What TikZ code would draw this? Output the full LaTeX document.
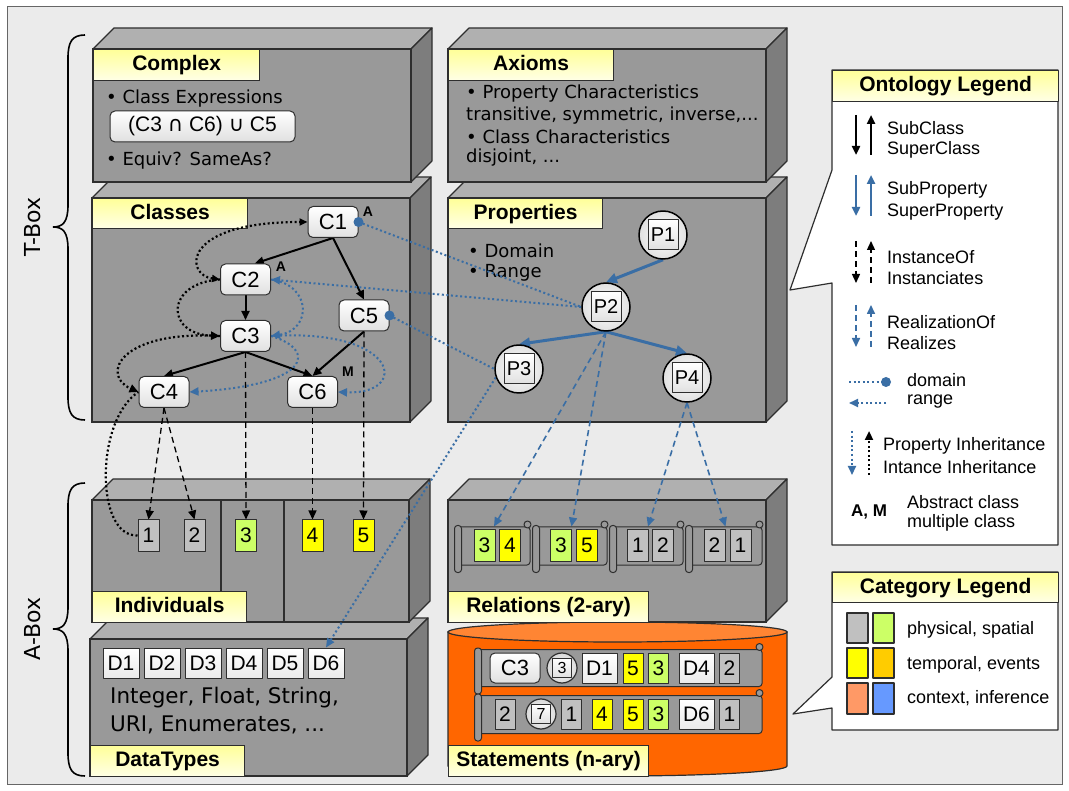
\documentclass[tikz,border=0pt]{standalone}
\usepackage{fontspec}
\setmainfont{Liberation Sans}
\newfontfamily\dv{DejaVu Sans}
\usetikzlibrary{arrows.meta,calc}
\definecolor{bgc}{HTML}{EBEBEB}
\definecolor{frontc}{HTML}{999999}
\definecolor{topc}{HTML}{B0B0B0}
\definecolor{sidec}{HTML}{7D7D7D}
\definecolor{edgec}{HTML}{2E2E2E}
\definecolor{myblue}{RGB}{58,110,165}
\definecolor{igray}{HTML}{C0C0C0}
\definecolor{igreen}{HTML}{CCFF66}
\definecolor{iyellow}{HTML}{FFFF00}
\definecolor{iorange}{HTML}{FFCC00}
\definecolor{isalmon}{HTML}{FF9966}
\definecolor{iblue}{HTML}{6699FF}
\definecolor{cylc}{HTML}{FF6600}
\definecolor{cyltop}{HTML}{FF8533}
\definecolor{labtop}{HTML}{FFFF99}
\definecolor{labbot}{HTML}{FFFFE6}
\pgfdeclarelayer{blocks}
\pgfdeclarelayer{links}
\pgfsetlayers{blocks,links,main}
\newcommand\blk[4]{%
  \filldraw[fill=topc,draw=edgec,line width=1.2pt,line join=round] (#1,#2) -- ({#1+21},{#2-21}) -- ({#3+21},{#2-21}) -- (#3,#2) -- cycle;
  \filldraw[fill=sidec,draw=edgec,line width=1.2pt,line join=round] (#3,#2) -- ({#3+21},{#2-21}) -- ({#3+21},{#4-21}) -- (#3,#4) -- cycle;
  \filldraw[fill=frontc,draw=edgec,line width=1.2pt] (#1,#2) rectangle (#3,#4);}
\newcommand\scrl[5]{%
  \node[scrollbody,minimum width=#4pt,minimum height=#5pt] (#1) at (#2,#3) {};
  \filldraw[fill=frontc,draw=edgec,line width=1pt,rounded corners=3pt] ($(#1.north west)+(-3,-1)$) rectangle ($(#1.south west)+(4,7)$);
  \filldraw[fill=frontc,draw=edgec,line width=1pt] ($(#1.north east)+(-3,-2)$) circle[radius=3.5pt];}
\begin{document}
\begin{tikzpicture}[x=1pt,y=-1pt,line join=round,
 labelbox/.style={draw=edgec,line width=1.2pt,top color=labtop,bottom color=labbot,anchor=north west,inner sep=0pt,minimum height=31pt,text height=15pt,text depth=4pt,font=\fontsize{21}{24}\selectfont\bfseries},
 btxt/.style={anchor=west,inner sep=0pt,font=\dv\fontsize{18}{20}\selectfont},
 cls/.style={draw=edgec,line width=1pt,rounded corners=5pt,top color=white,bottom color=black!12,minimum width=50pt,minimum height=31pt,inner sep=0pt,font=\fontsize{22}{24}\selectfont},
 pc/.style={circle,draw=black,line width=1.5pt,minimum size=48pt,inner sep=0pt,inner color=white,outer color=black!12},
 psq/.style={draw=edgec,line width=1pt,minimum size=30pt,inner sep=0pt,top color=white,bottom color=black!12,font=\fontsize{20}{22}\selectfont},
 ind/.style={draw=edgec,line width=1pt,minimum width=21pt,minimum height=31pt,inner sep=0pt,font=\fontsize{21}{23}\selectfont},
 sind/.style={ind,minimum width=20pt,minimum height=30pt},
 dbox/.style={draw=edgec,line width=1pt,minimum width=36pt,minimum height=30pt,inner sep=0pt,top color=white,bottom color=black!8,font=\fontsize{21}{23}\selectfont},
 scrollbody/.style={draw=edgec,line width=1pt,fill=frontc,rounded corners=3pt,inner sep=0pt},
 sc/.style={circle,draw=edgec,line width=1.2pt,minimum size=30pt,inner sep=0pt,inner color=white,outer color=black!15},
 ssq/.style={draw=edgec,line width=0.8pt,minimum size=19pt,inner sep=0pt,top color=white,bottom color=black!12,font=\fontsize{16}{18}\selectfont},
 arrtip/.style={-{Triangle[length=9pt,width=8pt]}},
 sub/.style={line width=2pt,arrtip},
 subp/.style={myblue,line width=3pt,-{Triangle[length=11pt,width=10pt]}},
 inst/.style={line width=1.3pt,dash pattern=on 6pt off 4pt,arrtip},
 real/.style={myblue,line width=1.6pt,dash pattern=on 6pt off 4pt,arrtip},
 bdot/.style={line width=2.2pt,dash pattern=on 2pt off 2.5pt},
 bldot/.style={myblue,line width=2pt,dash pattern=on 2pt off 2.6pt},
 legtxt/.style={anchor=west,inner sep=0pt,font=\fontsize{18}{20}\selectfont},
 lbl/.style={font=\fontsize{14}{16}\selectfont\bfseries,inner sep=0pt},
 sw/.style={draw=edgec,line width=1.2pt}
]
\useasboundingbox (0,0) rectangle (1069,791);
\begin{pgfonlayer}{blocks}
\fill[white] (0,0) rectangle (1069,791);
\filldraw[fill=bgc,draw=black!60,line width=1pt] (7,7) rectangle (1062,784);
% braces
\draw[line width=1.6pt] (85,35) .. controls (72,35) and (68,42) .. (68,58) -- (68,205) .. controls (68,222) and (63,227) .. (53,227) .. controls (63,227) and (68,232) .. (68,249) -- (68,397) .. controls (68,413) and (72,420) .. (85,420);
\draw[line width=1.6pt] (85,483) .. controls (72,483) and (68,490) .. (68,506) -- (68,607) .. controls (68,624) and (63,629) .. (53,629) .. controls (63,629) and (68,634) .. (68,651) -- (68,753) .. controls (68,769) and (72,776) .. (85,776);
\node[rotate=90,font=\dv\fontsize{22}{24}\selectfont] (tbox) at (33,227) {T-Box};
\node[rotate=90,font=\dv\fontsize{22}{24}\selectfont] (abox) at (33,629) {A-Box};
% T-Box blocks
\blk{92}{198}{410}{422}
\blk{93}{49}{411}{182}
\blk{448}{198}{766}{422}
\blk{448}{49}{766}{182}
% A-Box blocks
\blk{90}{639}{407}{776}
\blk{92}{500}{409}{622}
\draw[edgec,line width=1.2pt] (221,500) -- (221,622) (284,500) -- (284,622);
\filldraw[fill=cylc,draw=edgec,line width=1.2pt] (448,632) -- (448,766) arc[start angle=180,end angle=360,x radius=169.5pt,y radius=10pt] -- (787,632) -- cycle;
\filldraw[fill=cyltop,draw=edgec,line width=1.2pt] (617.5,632) ellipse[x radius=169.5pt,y radius=10pt];
\blk{448}{500}{766}{622}
% labels
\node[labelbox,minimum width=166pt] (lcomplex) at (93,49) {Complex};
\node[labelbox,minimum width=155pt,minimum height=30pt] (lclasses) at (92,198) {Classes};
\node[labelbox,minimum width=165pt] (laxioms) at (448,49) {Axioms};
\node[labelbox,minimum width=154pt,minimum height=30pt] (lprops) at (448,198) {Properties};
\node[labelbox,minimum width=154pt] (lind) at (92,591) {Individuals};
\node[labelbox,minimum width=154pt] (ldt) at (90,745) {DataTypes};
\node[labelbox,minimum width=200pt] (lrel) at (448,591) {Relations (2-ary)};
\node[labelbox,minimum width=200pt] (lstat) at (448,745) {Statements (n-ary)};
% block texts
\node[btxt] (cx1) at (106,99) {\textbullet\ Class Expressions};
\node[draw=edgec,line width=1pt,rounded corners=5pt,top color=white,bottom color=black!12,minimum width=185pt,minimum height=31pt,inner sep=0pt,font=\fontsize{21}{23}\selectfont] (cexpr) at (202.5,126.5) {(C3 {\dv ∩} C6) {\dv ∪} C5};
\node[btxt] (cx2) at (106,161) {\textbullet\ Equiv? SameAs?};
\node[btxt] (ax1) at (466,94) {\textbullet\ Property Characteristics};
\node[btxt] (ax2) at (466,116) {transitive, symmetric, inverse,...};
\node[btxt] (ax3) at (466,137) {\textbullet\ Class Characteristics};
\node[btxt] (ax4) at (466,158) {disjoint, ...};
\node[btxt] (pr1) at (468,251) {\textbullet\ Domain};
\node[btxt] (pr2) at (468,273) {\textbullet\ Range};
\node[btxt,font=\dv\fontsize{21.5}{24}\selectfont] (dt1) at (110,698) {Integer, Float, String,};
\node[btxt,font=\dv\fontsize{21.5}{24}\selectfont] (dt2) at (110,725) {URI, Enumerates, ...};
\end{pgfonlayer}
% ---------- nodes ----------
\node[cls] (C1) at (333,222) {C1};
\node[cls] (C2) at (245.5,279.5) {C2};
\node[cls] (C3) at (245.5,336) {C3};
\node[cls] (C5) at (364,315.5) {C5};
\node[cls] (C4) at (164,392) {C4};
\node[cls] (C6) at (312.5,392) {C6};
\node[lbl] (aC1) at (368,212) {A};
\node[lbl] (aC2) at (281,267) {A};
\node[lbl] (mC6) at (348,372) {M};
\node[pc] (P1) at (663,235) {}; \node[psq] (P1s) at (P1) {P1};
\node[pc] (P2) at (606,307) {}; \node[psq] (P2s) at (P2) {P2};
\node[pc] (P3) at (519,369) {}; \node[psq] (P3s) at (P3) {P3};
\node[pc] (P4) at (687,378) {}; \node[psq] (P4s) at (P4) {P4};
\node[ind,fill=igray] (i1) at (148.5,535.5) {1};
\node[ind,fill=igray] (i2) at (194.5,535.5) {2};
\node[ind,fill=igreen] (i3) at (246,535.5) {3};
\node[ind,fill=iyellow] (i4) at (312.5,535.5) {4};
\node[ind,fill=iyellow] (i5) at (363.5,535.5) {5};
\node[dbox] (D1) at (121,663) {D1};
\node[dbox] (D2) at (162,663) {D2};
\node[dbox] (D3) at (203,663) {D3};
\node[dbox] (D4) at (244,663) {D4};
\node[dbox] (D5) at (285,663) {D5};
\node[dbox] (D6) at (326,663) {D6};
% relations
\scrl{S1}{494}{546}{72}{38}
\scrl{S2}{571.5}{546}{71}{38}
\scrl{S3}{648}{546}{70}{38}
\scrl{S4}{725.5}{546}{73}{38}
\node[ind,fill=igreen] (r1a) at (484.5,545.5) {3};
\node[ind,fill=iyellow] (r1b) at (510,545.5) {4};
\node[ind,fill=igreen] (r2a) at (561,545.5) {3};
\node[ind,fill=iyellow] (r2b) at (587,545.5) {5};
\node[ind,fill=igray] (r3a) at (638,545.5) {1};
\node[ind,fill=igray] (r3b) at (663,545.5) {2};
\node[ind,fill=igray] (r4a) at (714.5,545.5) {2};
\node[ind,fill=igray] (r4b) at (740.5,545.5) {1};
% statements
\scrl{row1}{620}{668}{284}{37}
\scrl{row2}{620}{714.5}{284}{38}
\node[cls,minimum height=30pt] (sC3) at (515,668) {C3};
\node[sc] (sc3) at (562,668) {}; \node[ssq] (sq3) at (sc3) {3};
\node[dbox,minimum width=35pt] (sD1) at (599.5,668) {D1};
\node[sind,fill=iyellow] (s15) at (633,668) {5};
\node[sind,fill=igreen] (s13) at (658.5,668) {3};
\node[dbox,minimum width=35pt] (sD4) at (696.5,668) {D4};
\node[sind,fill=igray] (s12) at (729.5,668) {2};
\node[sind,fill=igray] (s22) at (505,714) {2};
\node[sc] (sc7) at (541,714) {}; \node[ssq] (sq7) at (sc7) {7};
\node[sind,fill=igray] (s21) at (571.5,714) {1};
\node[sind,fill=iyellow] (s24) at (602,714) {4};
\node[sind,fill=iyellow] (s25) at (633,714) {5};
\node[sind,fill=igreen] (s23) at (658.5,714) {3};
\node[dbox,minimum width=35pt] (sD6) at (696.5,714) {D6};
\node[sind,fill=igray] (s21b) at (729.5,714) {1};
% ---------- connectors ----------
\begin{pgfonlayer}{links}
\draw[sub] (C1.south) -- (C2.60);
\draw[sub] (C1.south) -- (C5.north);
\draw[sub] (C2.south) -- (C3.north);
\draw[sub] (C3.south) -- (C4.north);
\draw[sub] (C3.south) -- (C6.north);
\draw[sub] (C5.south) -- (C6.north);
\draw[subp] (P1.south) -- (P2.north);
\draw[subp] (P2.south) -- (P3.north);
\draw[subp] (P2.south) -- (P4.north);
\draw[inst] (C4.south) -- (i1.north);
\draw[inst] (C4.south) -- (i2.north);
\draw[inst] (C3.south) -- (i3.north);
\draw[inst] (C6.south) -- (i4.north);
\draw[inst] (C5.south) -- (i5.north);
\draw[real] (P2.south) -- (S1.north);
\draw[real] (P2.south) -- (S2.north);
\draw[real] (P4.south) -- (S3.north);
\draw[real] (P4.south) -- (S4.north);
\draw[bldot] (C1.east) -- (P2.west);
\draw[bldot,arrtip] (P2.west) -- (C2.east);
\draw[bldot] (C5.east) -- (P3.west);
\draw[bldot,arrtip] (P3.200) -- (D6.north);
\draw[bdot,{Triangle[length=8pt,width=7pt]}-{Triangle[length=8pt,width=7pt]}] (C2.west) .. controls (185,275) and (180,222) .. (C1.west);
\draw[bdot,arrtip] (C2.west) .. controls (165,283) and (165,334) .. (C3.west);
\draw[bdot,arrtip] (C3.west) .. controls (120,330) and (100,375) .. (C4.west);
\draw[bdot] (i1.west) .. controls (95,537) and (95,420) .. (C4.west);
\draw[bldot,arrtip] (C2.east) .. controls (312,285) and (312,330) .. (C3.east);
\draw[bldot,arrtip] (C3.east) .. controls (400,328) and (410,395) .. (C6.east);
\draw[bldot,arrtip] (C3.east) .. controls (318,350) and (310,385) .. (C4.east);
\end{pgfonlayer}
\fill[myblue] (C1.east) circle[radius=5pt];
\fill[myblue] (C5.east) circle[radius=5pt];
% ---------- ontology legend ----------
\filldraw[fill=white,draw=edgec,line width=1.2pt] (832,70) -- (1058,70) -- (1058,545) -- (832,545) -- (832,283) -- (790,290) -- (832,170) -- cycle;
\node[labelbox,minimum width=226pt] (ontleg) at (832,70) {Ontology Legend};
\draw[line width=2.5pt,arrtip] (856,115) -- (856,155);
\draw[line width=2.5pt,arrtip] (871,155) -- (871,115);
\node[legtxt] (lg1) at (887,128) {SubClass};
\node[legtxt] (lg2) at (887,150) {SuperClass};
\draw[myblue,line width=2.5pt,arrtip] (856,175) -- (856,216);
\draw[myblue,line width=2.5pt,arrtip] (871,216) -- (871,175);
\node[legtxt] (lg3) at (887,190) {SubProperty};
\node[legtxt] (lg4) at (887,212) {SuperProperty};
\draw[inst] (856,241) -- (856,283);
\draw[inst] (871,283) -- (871,241);
\node[legtxt] (lg5) at (887,257) {InstanceOf};
\node[legtxt] (lg6) at (887,278) {Instanciates};
\draw[real] (856,305) -- (856,347);
\draw[real] (871,347) -- (871,305);
\node[legtxt] (lg7) at (887,322) {RealizationOf};
\node[legtxt] (lg8) at (887,343) {Realizes};
\draw[bldot] (849,382) -- (882,382);
\fill[myblue] (886,382) circle[radius=5pt];
\node[legtxt] (lg9) at (907,380) {domain};
\draw[bldot,arrtip] (886,403) -- (849,403);
\node[legtxt] (lg10) at (907,402) {range};
\draw[bldot,arrtip] (852,431) -- (852,475);
\draw[bdot,arrtip] (869,475) -- (869,431);
\node[legtxt] (lg11) at (883,446) {Property Inheritance};
\node[legtxt] (lg12) at (883,467) {Intance Inheritance};
\node[font=\fontsize{17}{19}\selectfont\bfseries,inner sep=0pt] (lg13) at (869,512) {A, M};
\node[legtxt] (lg14) at (907,502) {Abstract class};
\node[legtxt] (lg15) at (907,523) {multiple class};
% ---------- category legend ----------
\filldraw[fill=white,draw=edgec,line width=1.2pt] (832,572) -- (1058,572) -- (1058,730) -- (832,730) -- (832,708) -- (793,714) -- (832,677) -- cycle;
\node[labelbox,minimum width=226pt,minimum height=30pt] (catleg) at (832,572) {Category Legend};
\filldraw[sw,fill=igray] (847,613) rectangle (868,643);
\filldraw[sw,fill=igreen] (873,613) rectangle (894,643);
\filldraw[sw,fill=iyellow] (847,648) rectangle (868,678);
\filldraw[sw,fill=iorange] (873,648) rectangle (894,678);
\filldraw[sw,fill=isalmon] (847,683) rectangle (868,714);
\filldraw[sw,fill=iblue] (873,683) rectangle (894,714);
\node[legtxt] (cl1) at (907,630) {physical, spatial};
\node[legtxt] (cl2) at (907,665) {temporal, events};
\node[legtxt] (cl3) at (907,698) {context, inference};
\end{tikzpicture}
\end{document}
